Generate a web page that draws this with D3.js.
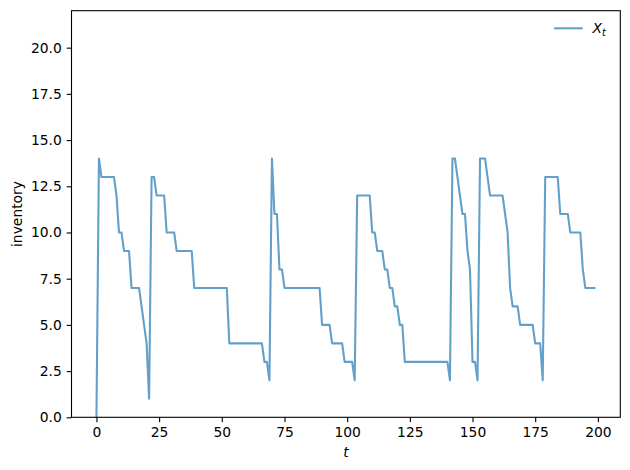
<!DOCTYPE html>
<html>
<head>
<meta charset="utf-8">
<script src="https://cdn.jsdelivr.net/npm/d3@7"></script>
<style>
  body { margin: 0; background: #fff; }
  svg { display: block; font-family: "DejaVu Sans", sans-serif; }
</style>
</head>
<body>
<svg id="chart" width="630" height="470"></svg>
<script>
// inventory level X_t for t = 0..199
const inventory = [
  0, 14, 13, 13, 13, 13, 13, 13, 12, 10,
  10, 9, 9, 9, 7, 7, 7, 7, 6, 5,
  4, 1, 13, 13, 12, 12, 12, 12, 10, 10,
  10, 10, 9, 9, 9, 9, 9, 9, 9, 7,
  7, 7, 7, 7, 7, 7, 7, 7, 7, 7,
  7, 7, 7, 4, 4, 4, 4, 4, 4, 4,
  4, 4, 4, 4, 4, 4, 4, 3, 3, 2,
  14, 11, 11, 8, 8, 7, 7, 7, 7, 7,
  7, 7, 7, 7, 7, 7, 7, 7, 7, 7,
  5, 5, 5, 5, 4, 4, 4, 4, 4, 3,
  3, 3, 3, 2, 12, 12, 12, 12, 12, 12,
  10, 10, 9, 9, 9, 8, 8, 7, 7, 6,
  6, 5, 5, 3, 3, 3, 3, 3, 3, 3,
  3, 3, 3, 3, 3, 3, 3, 3, 3, 3,
  3, 2, 14, 14, 13, 12, 11, 11, 9, 8,
  3, 3, 2, 14, 14, 14, 13, 12, 12, 12,
  12, 12, 12, 11, 10, 7, 6, 6, 6, 5,
  5, 5, 5, 5, 5, 4, 4, 4, 2, 13,
  13, 13, 13, 13, 13, 11, 11, 11, 11, 10,
  10, 10, 10, 10, 8, 7, 7, 7, 7, 7
];
const xTicks = [0, 25, 50, 75, 100, 125, 150, 175, 200];
const yTicks = [0, 2.5, 5, 7.5, 10, 12.5, 15, 17.5, 20];
const xLabel = "t";
const yLabel = "inventory";
const seriesName = ["X", "t"];

const svg = d3.select("#chart");
const L = 71.5, R = 620.3, T = 10.7, B = 417.3;
const fs = 13.89;

const n = inventory.length;
const span = (n - 1);
const x = d3.scaleLinear().domain([-0.05 * span, span * 1.05]).range([L, R]);
const y = d3.scaleLinear().domain([0, 22]).range([B, T]);

// line
const line = d3.line().x((d, i) => x(i)).y(d => y(d));
svg.append("path")
  .datum(inventory)
  .attr("d", line)
  .attr("fill", "none")
  .attr("stroke", "#1f77b4")
  .attr("stroke-opacity", 0.7)
  .attr("stroke-width", 2.08)
  .attr("stroke-linejoin", "round")
  .attr("stroke-linecap", "butt");

// axes
const xAxis = d3.axisBottom(x).tickValues(xTicks).tickSize(4.86).tickPadding(4.86).tickFormat(d3.format("d"));
const yAxis = d3.axisLeft(y).tickValues(yTicks).tickSize(4.86).tickPadding(4.86).tickFormat(d3.format(".1f"));

const gx = svg.append("g").attr("transform", `translate(0,${B})`).call(xAxis);
const gy = svg.append("g").attr("transform", `translate(${L},0)`).call(yAxis);
[gx, gy].forEach(g => {
  g.select(".domain").remove();
  g.selectAll(".tick line").attr("stroke", "#000").attr("stroke-width", 1.1);
  g.selectAll(".tick text").attr("fill", "#000").attr("font-size", fs)
    .attr("font-family", "DejaVu Sans, sans-serif");
});

// frame
svg.append("rect")
  .attr("x", L).attr("y", T).attr("width", R - L).attr("height", B - T)
  .attr("fill", "none").attr("stroke", "#000").attr("stroke-width", 1.1);

// axis labels
svg.append("text")
  .attr("x", (L + R) / 2).attr("y", 457)
  .attr("text-anchor", "middle")
  .attr("font-size", fs).attr("font-style", "italic")
  .text(xLabel);
svg.append("text")
  .attr("transform", `translate(22,${(T + B) / 2}) rotate(-90)`)
  .attr("text-anchor", "middle")
  .attr("font-size", fs)
  .text(yLabel);

// legend
svg.append("line")
  .attr("x1", 554).attr("x2", 582.7).attr("y1", 28.3).attr("y2", 28.3)
  .attr("stroke", "#1f77b4").attr("stroke-opacity", 0.7).attr("stroke-width", 2.08);
const lt = svg.append("text")
  .attr("x", 592.5).attr("y", 33.2)
  .attr("font-size", fs).attr("font-style", "italic");
lt.append("tspan").text(seriesName[0]);
lt.append("tspan").attr("font-size", fs * 0.7).attr("dy", 2.6).text(seriesName[1]);
</script>
</body>
</html>
